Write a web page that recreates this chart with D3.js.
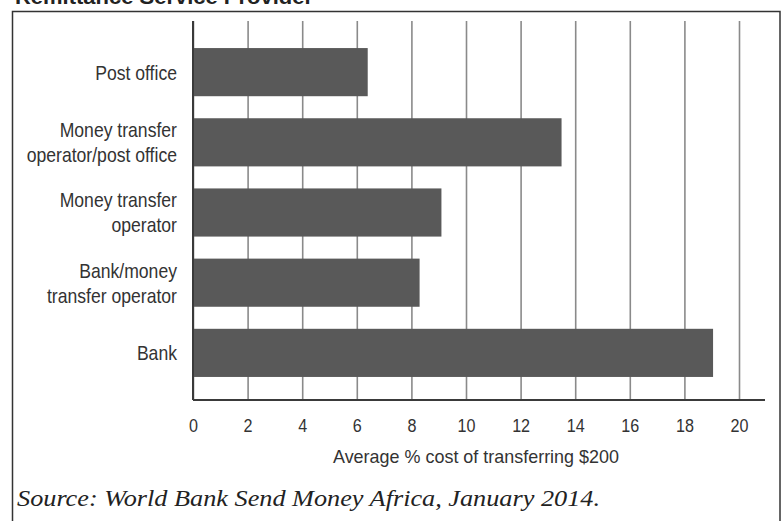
<!DOCTYPE html>
<html>
<head>
<meta charset="utf-8">
<script src="https://cdn.jsdelivr.net/npm/d3@7"></script>
<style>
  html, body { margin: 0; padding: 0; background: #fff; }
  svg { display: block; }
</style>
</head>
<body>
<svg id="chart" width="783" height="521"></svg>
<script>
// Remittance providers and the average % cost of sending $200
const providers = [
  ["Post office"],
  ["Money transfer", "operator/post office"],
  ["Money transfer", "operator"],
  ["Bank/money", "transfer operator"],
  ["Bank"]
];
const costs = [6.4, 13.5, 9.1, 8.3, 19.05];
const xTicks = [0, 2, 4, 6, 8, 10, 12, 14, 16, 18, 20];

const titleText = "Remittance Service Provider";
const axisTitle = "Average % cost of transferring $200";
const sourceText = "Source: World Bank Send Money Africa, January 2014.";

const svg = d3.select("#chart");
const sans = "'Liberation Sans', Arial, sans-serif";
const squeeze = 0.88; // horizontal condensing for the narrow label face

const plotTop = 21, plotBottom = 400;
const keys = providers.map(d => d.join(" "));

const x = d3.scaleLinear().domain([0, 20]).range([193, 739]);
const y = d3.scaleBand()
  .domain(keys)
  .range([plotTop, plotBottom])
  .paddingInner(0.314)
  .paddingOuter(0.357)
  .align(0.54);

// Heading (sits partly above the frame)
svg.append("text")
  .attr("x", 15).attr("y", 4)
  .attr("font-family", sans)
  .attr("font-weight", "bold")
  .attr("font-size", 20)
  .attr("textLength", 298)
  .attr("lengthAdjust", "spacingAndGlyphs")
  .attr("fill", "#222")
  .text(titleText);

// Frame around the chart
svg.append("rect")
  .attr("x", 12.5).attr("y", 11.5)
  .attr("width", 767.5).attr("height", 530)
  .attr("fill", "none")
  .attr("stroke", "#333")
  .attr("stroke-width", 1.5);

// Vertical gridlines and tick labels
const xAxis = svg.append("g")
  .attr("transform", `translate(0,${plotBottom})`)
  .call(d3.axisBottom(x).tickValues(xTicks).tickSize(-(plotBottom - plotTop)).tickPadding(19));
xAxis.select(".domain").remove();
xAxis.selectAll(".tick line")
  .attr("stroke", "#8a8a8a")
  .attr("stroke-width", 1.6);
xAxis.selectAll(".tick text")
  .attr("font-family", sans)
  .attr("font-size", 19)
  .attr("fill", "#333")
  .attr("transform", "scale(0.85,1)")
  .attr("dy", "0.71em");

// Bars
svg.append("g").selectAll("rect")
  .data(costs)
  .join("rect")
  .attr("x", x(0))
  .attr("y", (d, i) => y(keys[i]))
  .attr("width", d => x(d) - x(0))
  .attr("height", y.bandwidth())
  .attr("fill", "#595959");

// Value axis baseline and category axis line
svg.append("line")
  .attr("x1", x(0)).attr("x2", 765)
  .attr("y1", plotBottom).attr("y2", plotBottom)
  .attr("stroke", "#3a3a3a").attr("stroke-width", 2.2);
svg.append("line")
  .attr("x1", x(0)).attr("x2", x(0))
  .attr("y1", plotTop).attr("y2", plotBottom)
  .attr("stroke", "#3a3a3a").attr("stroke-width", 2);

// Category labels, right aligned beside the bars
const lineGap = 25;
const labelRight = 177;
const labels = svg.append("g")
  .attr("transform", `scale(${squeeze},1)`)
  .selectAll("text")
  .data(providers)
  .join("text")
  .attr("x", labelRight / squeeze)
  .attr("y", (d, i) => y(keys[i]) + y.bandwidth() / 2 - (d.length - 1) * lineGap / 2)
  .attr("text-anchor", "end")
  .attr("font-family", sans)
  .attr("font-size", 20)
  .attr("fill", "#333")
  .attr("dominant-baseline", "central");
labels.selectAll("tspan")
  .data(d => d)
  .join("tspan")
  .attr("x", labelRight / squeeze)
  .attr("dy", (d, i) => i === 0 ? 0 : lineGap)
  .text(d => d);

// Axis title
svg.append("text")
  .attr("x", 333).attr("y", 456)
  .attr("dominant-baseline", "central")
  .attr("font-family", sans)
  .attr("font-size", 19)
  .attr("textLength", 286)
  .attr("lengthAdjust", "spacingAndGlyphs")
  .attr("fill", "#333")
  .text(axisTitle);

// Source note
svg.append("text")
  .attr("x", 17).attr("y", 506)
  .attr("font-family", "'Liberation Serif', 'Times New Roman', serif")
  .attr("font-style", "italic")
  .attr("font-size", 24)
  .attr("textLength", 583)
  .attr("lengthAdjust", "spacingAndGlyphs")
  .attr("fill", "#222")
  .text(sourceText);
</script>
</body>
</html>
